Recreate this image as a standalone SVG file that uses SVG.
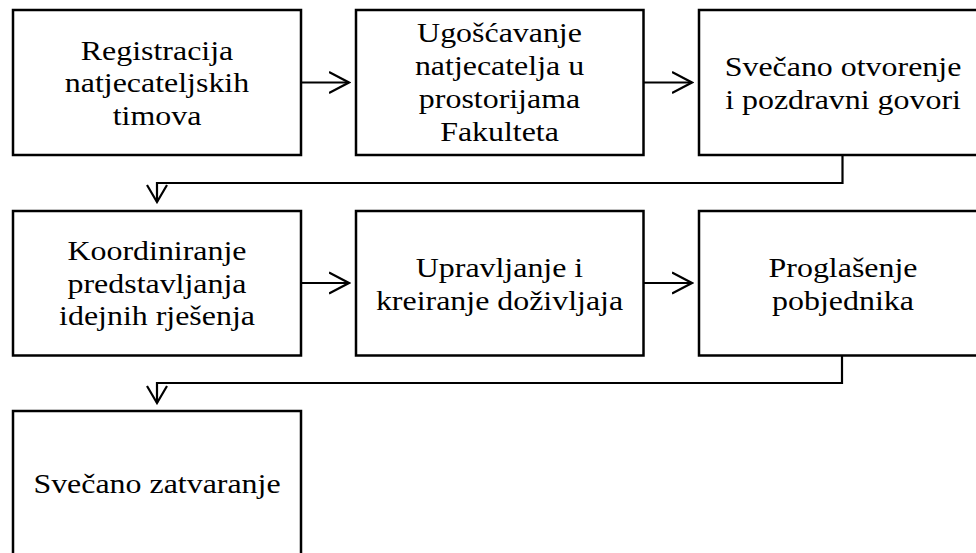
<svg xmlns="http://www.w3.org/2000/svg" width="976" height="553" viewBox="0 0 976 553">
<style>
.box{fill:#fff;stroke:#000;stroke-width:2.5}
.ln{fill:none;stroke:#000;stroke-width:2.2}
text{font-family:'Liberation Serif','Times New Roman',Times,serif;font-size:28px;fill:#000;text-anchor:middle}
</style>
<defs>
<marker id="ah" viewBox="0 0 22 24" refX="20" refY="12" markerWidth="22" markerHeight="24" markerUnits="userSpaceOnUse" orient="auto">
<path d="M0,1.5 L20,12 L0,22.5" fill="none" stroke="#000" stroke-width="2.2"/>
</marker>
<marker id="ad" viewBox="0 0 20 24" refX="18" refY="12" markerWidth="20" markerHeight="24" markerUnits="userSpaceOnUse" orient="auto">
<path d="M1,2 L18,12 L1,22" fill="none" stroke="#000" stroke-width="2.2"/>
</marker>
</defs>
<rect width="976" height="553" fill="#fff"/>
<g id="connectors">
<line class="ln" x1="301" y1="82.5" x2="349" y2="82.5" marker-end="url(#ah)"/>
<line class="ln" x1="643.5" y1="82.5" x2="692" y2="82.5" marker-end="url(#ah)"/>
<polyline class="ln" points="842.5,155.5 842.5,183 157,183 157,202" marker-end="url(#ad)"/>
<line class="ln" x1="301" y1="283" x2="349" y2="283" marker-end="url(#ah)"/>
<line class="ln" x1="643.5" y1="283" x2="692" y2="283" marker-end="url(#ah)"/>
<polyline class="ln" points="842,355.5 842,383 157,383 157,403" marker-end="url(#ad)"/>
</g>
<g id="n1"><rect class="box" x="13" y="10" width="288" height="145"/>
<g transform="translate(157,0) scale(1.14,1)" font-family="Liberation Serif"><text x="0" y="60">Registracija</text><text x="0" y="92.5">natjecateljskih</text><text x="0" y="125.5">timova</text></g></g>
<g id="n2"><rect class="box" x="356" y="10" width="287.5" height="145"/>
<g transform="translate(499.5,0) scale(1.14,1)"><text x="0" y="42.5">Ugošćavanje</text><text x="0" y="75.5">natjecatelja u</text><text x="0" y="108.5">prostorijama</text><text x="0" y="141.5">Fakulteta</text></g></g>
<g id="n3"><rect class="box" x="699" y="10" width="288" height="145"/>
<g transform="translate(843,0) scale(1.14,1)"><text x="0" y="76">Svečano otvorenje</text><text x="0" y="109">i pozdravni govori</text></g></g>
<g id="n4"><rect class="box" x="13" y="211" width="288" height="144.5"/>
<g transform="translate(157,0) scale(1.14,1)"><text x="0" y="260.5">Koordiniranje</text><text x="0" y="293">predstavljanja</text><text x="0" y="325.5">idejnih rješenja</text></g></g>
<g id="n5"><rect class="box" x="356" y="211" width="287.5" height="144.5"/>
<g transform="translate(499.5,0) scale(1.14,1)"><text x="0" y="277">Upravljanje i</text><text x="0" y="310">kreiranje doživljaja</text></g></g>
<g id="n6"><rect class="box" x="699" y="211" width="288" height="144.5"/>
<g transform="translate(843,0) scale(1.14,1)"><text x="0" y="277">Proglašenje</text><text x="0" y="310">pobjednika</text></g></g>
<g id="n7"><rect class="box" x="13" y="411" width="288" height="145"/>
<g transform="translate(157,0) scale(1.14,1)"><text x="0" y="493">Svečano zatvaranje</text></g></g>
</svg>
